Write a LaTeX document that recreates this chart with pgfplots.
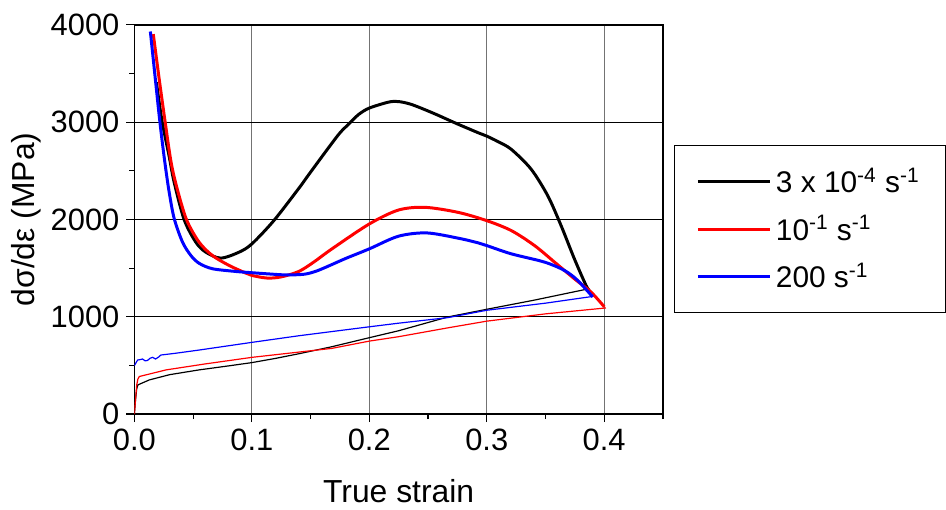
\documentclass[border=0pt]{standalone}
\usepackage{fontspec}
\setmainfont{Liberation Sans}
\usepackage{pgfplots}
\pgfplotsset{compat=1.18}
\begin{document}
\begin{tikzpicture}
\begin{axis}[
  scale only axis,
  width=265.5pt, height=195.5pt,
  xmin=0, xmax=0.45, ymin=0, ymax=4000,
  xtick={0,0.1,0.2,0.3,0.4},
  minor xtick={0.05,0.15,0.25,0.35,0.45},
  ytick={0,1000,2000,3000,4000},
  minor ytick={500,1500,2500,3500},
  grid=major,
  major x grid style={black!55, line width=0.6pt},
  major y grid style={black, line width=0.5pt},
  axis line style={line width=0.65pt},
  every tick/.style={black, line width=0.6pt},
  tick align=outside, tick pos=left,
  major tick length=4pt, minor tick length=2.5pt,
  /pgf/number format/assume math mode=true,
  tick label style={font=\fontsize{15.5}{18}\selectfont},
  xticklabel style={/pgf/number format/fixed, /pgf/number format/fixed zerofill, /pgf/number format/precision=1},
  yticklabel style={/pgf/number format/1000 sep={}},
  xlabel={True strain},
  ylabel={dσ/dε (MPa)},
  label style={font=\fontsize{16}{19}\selectfont},
  xlabel style={at={(axis description cs:0.5,-0.2276)}, anchor=base},
  ylabel style={at={(axis description cs:-0.205,0.5)}, anchor=center, rotate=0},
  legend style={at={(1.0207,0.6905)}, anchor=north west, draw=black, line width=0.5pt,
    font=\fontsize{15}{18}\selectfont, inner xsep=11pt, inner ysep=9pt, row sep=6pt,
    legend cell align=left},
  legend image code/.code={\draw[#1, line width=1.5pt] (0pt,0pt) -- (36.5pt,0pt);},
]
\coordinate (sw) at (rel axis cs:0,0);
% thin stress curves
\addplot[black, line width=0.6pt, forget plot] coordinates {
(0,0) (0.001,150) (0.002,260) (0.003,300) (0.0127,351) (0.03,405) (0.055,454) (0.08,495) (0.1,529) (0.12,572) (0.14,620) (0.168,692) (0.2,785) (0.2248,856) (0.2672,999) (0.3,1077) (0.34,1170) (0.3845,1282)};
\addplot[red, line width=0.6pt, forget plot] coordinates {
(0,0) (0.0008,120) (0.002,300) (0.003,360) (0.0042,386) (0.0269,454) (0.06,515) (0.1,583) (0.168,675) (0.2,750) (0.2248,795) (0.2672,887) (0.3,955) (0.35,1030) (0.4015,1091)};
\addplot[blue, line width=0.6pt, forget plot] coordinates {
(0,498) (0.0015,530) (0.0028,556) (0.005,560) (0.007,566) (0.009,548) (0.011,550) (0.0135,575) (0.0156,583) (0.018,566) (0.0205,585) (0.0226,607) (0.035,625) (0.055,658) (0.1,737) (0.14,805) (0.2,897) (0.2248,934) (0.2672,992) (0.3,1067) (0.35,1140) (0.3907,1210)};
% thick hardening rate curves
\addplot[black, line width=1.5pt, smooth] coordinates {
(0.0188,3410) (0.0198,3318) (0.0238,2994) (0.0296,2650) (0.0339,2381) (0.0424,1998) (0.0523,1767) (0.0608,1664) (0.0735,1603) (0.0891,1664) (0.1,1749) (0.1187,1988) (0.14,2320) (0.1484,2460) (0.1654,2739) (0.175,2890) (0.1824,2980) (0.191,3080) (0.2,3145) (0.2163,3206) (0.2248,3212) (0.236,3182) (0.255,3090) (0.2728,2994) (0.2926,2892) (0.3,2857) (0.3096,2800) (0.3209,2721) (0.3378,2517) (0.352,2243) (0.3633,1937) (0.3746,1596) (0.3845,1323) (0.3873,1272)};
\addlegendentry{3 x 10\textsuperscript{-4} s\textsuperscript{-1}}
\addplot[red, line width=1.5pt, smooth] coordinates {
(0.0161,3905) (0.0212,3437) (0.0263,2994) (0.0311,2600) (0.0359,2340) (0.0444,1998) (0.0551,1767) (0.0664,1630) (0.0806,1528) (0.0947,1450) (0.1,1425) (0.1131,1398) (0.125,1410) (0.14,1466) (0.1527,1562) (0.1682,1698) (0.2,1954) (0.2248,2097) (0.2474,2125) (0.2757,2073) (0.3,1988) (0.3209,1886) (0.3407,1732) (0.3577,1562) (0.3746,1391) (0.3887,1255) (0.4001,1102)};
\addlegendentry{10\textsuperscript{-1} s\textsuperscript{-1}}
\addplot[blue, line width=1.5pt, smooth] coordinates {
(0.0136,3932) (0.0177,3460) (0.0218,2994) (0.0257,2610) (0.0295,2290) (0.0339,2010) (0.041,1767) (0.0481,1630) (0.0551,1550) (0.0664,1494) (0.0862,1466) (0.1,1453) (0.115,1440) (0.13,1430) (0.145,1438) (0.155,1470) (0.165,1520) (0.18,1600) (0.2,1698) (0.2248,1828) (0.2488,1862) (0.2757,1808) (0.2926,1760) (0.3,1732) (0.3209,1647) (0.3492,1562) (0.3662,1476) (0.3774,1374) (0.3902,1204)};
\addlegendentry{200 s\textsuperscript{-1}}
\end{axis}
\path (sw) ++(-67.5pt,-47.5pt) rectangle ++(473pt,255.5pt);
\end{tikzpicture}
\end{document}
